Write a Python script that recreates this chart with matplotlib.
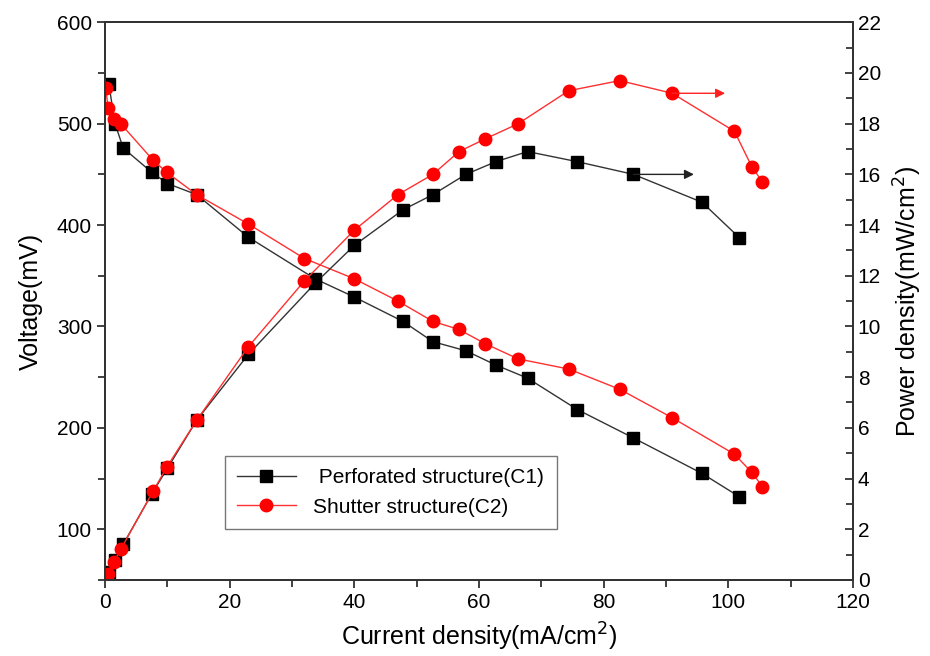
import numpy as np
import matplotlib as mpl
mpl.use('Agg')
import matplotlib.pyplot as plt
from matplotlib.ticker import MultipleLocator

plt.rcParams['font.family'] = ['Liberation Sans', 'DejaVu Sans']

# current density (mA/cm2)
i_c1 = [0.6, 1.6, 2.9, 7.5, 10.0, 14.7, 23.0, 33.7, 40.0, 47.8, 52.6, 57.9,
        62.7, 67.8, 75.8, 84.8, 95.8, 101.8]
i_c2 = [0.1, 0.5, 1.4, 2.5, 7.7, 9.9, 14.7, 23.0, 32.0, 40.0, 47.0, 52.6,
        56.8, 61.0, 66.3, 74.4, 82.6, 91.0, 101.0, 103.8, 105.5]

# voltage (mV)
v_c1 = [539, 500, 476, 452, 441, 430, 388, 347, 329, 305, 285, 276,
        262, 249, 218, 190, 155, 132]
v_c2 = [535, 515, 505, 500, 464, 452, 430, 401, 367, 347, 325, 305,
        297, 283, 268, 258, 238, 210, 174, 156, 142]

# power density (mW/cm2)
p_c1 = [0.3, 0.8, 1.4, 3.4, 4.4, 6.3, 8.9, 11.7, 13.2, 14.6, 15.2, 16.0,
        16.5, 16.9, 16.5, 16.0, 14.9, 13.5]
p_c2 = [0.05, 0.25, 0.7, 1.2, 3.5, 4.45, 6.3, 9.2, 11.8, 13.8, 15.2, 16.0,
        16.9, 17.4, 18.0, 19.3, 19.7, 19.2, 17.7, 16.3, 15.7]

labels = [' Perforated structure(C1)', 'Shutter structure(C2)']

fig = plt.figure(figsize=(9.3, 6.56), dpi=100)
ax = fig.add_axes([0.113, 0.116, 0.804, 0.85])
ax2 = ax.twinx()

l1, = ax.plot(i_c1, v_c1, color='#333333', lw=1.0, marker='s', ms=8,
              mfc='black', mec='black')
l2, = ax.plot(i_c2, v_c2, color='#ff3030', lw=1.0, marker='o', ms=9,
              mfc='#ff0000', mec='#ff0000')
ax2.plot(i_c1, p_c1, color='#333333', lw=1.0, marker='s', ms=8,
         mfc='black', mec='black')
ax2.plot(i_c2, p_c2, color='#ff3030', lw=1.0, marker='o', ms=9,
         mfc='#ff0000', mec='#ff0000')

# arrows pointing to the right axis
ax2.annotate('', xy=(94.5, 16.0), xytext=(84.8, 16.0),
             arrowprops=dict(arrowstyle='-|>', color='#222222', lw=1.0,
                             mutation_scale=14, shrinkA=0, shrinkB=0))
ax2.annotate('', xy=(99.5, 19.2), xytext=(91.0, 19.2),
             arrowprops=dict(arrowstyle='-|>', color='#ff2020', lw=1.0,
                             mutation_scale=14, shrinkA=0, shrinkB=0))

ax.set_xlim(0, 120)
ax.set_ylim(50, 600)
ax2.set_ylim(0, 22)

ax.xaxis.set_major_locator(MultipleLocator(20))
ax.xaxis.set_minor_locator(MultipleLocator(10))
ax.yaxis.set_major_locator(MultipleLocator(100))
ax.yaxis.set_minor_locator(MultipleLocator(50))
ax2.yaxis.set_major_locator(MultipleLocator(2))
ax2.yaxis.set_minor_locator(MultipleLocator(1))

ax.tick_params(axis='both', which='both', direction='out', labelsize=15,
               width=1.3, color='#333333', top=False, right=False)
ax.tick_params(which='major', length=6)
ax.tick_params(which='minor', length=5)
ax2.tick_params(axis='y', which='both', direction='in', labelsize=15,
                width=1.3, color='#333333', length=6)
ax2.tick_params(axis='y', which='minor', length=5)

for a in (ax, ax2):
    for s in a.spines.values():
        s.set_linewidth(1.4)
        s.set_color('#333333')

ax.set_xlabel('Current density(mA/cm$^2$)', fontsize=18, labelpad=6)
ax.set_ylabel('Voltage(mV)', fontsize=18, labelpad=10)
ax2.set_ylabel('Power density(mW/cm$^2$)', fontsize=18, labelpad=8)

leg = ax2.legend([l1, l2], labels, loc='lower left',
                 bbox_to_anchor=(0.16, 0.091), borderaxespad=0,
                 fontsize=15, fancybox=False, handlelength=2.8,
                 handletextpad=0.85, labelspacing=0.5, borderpad=0.6)
leg.get_frame().set_edgecolor('#555555')
leg.get_frame().set_linewidth(1.0)

fig.savefig('out.png', dpi=100)
